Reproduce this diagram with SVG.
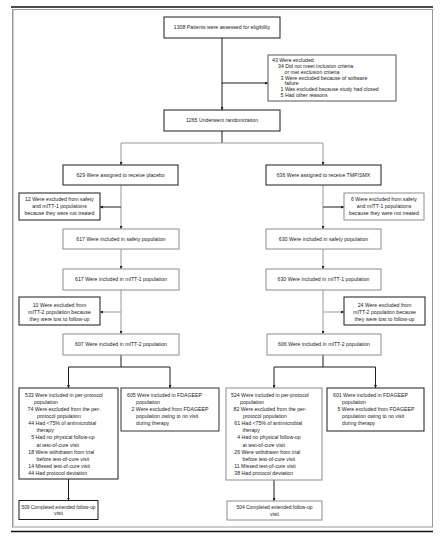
<svg xmlns="http://www.w3.org/2000/svg" width="440" height="539" viewBox="0 0 440 539">
<style>
text{font-family:"Liberation Sans",Arial,sans-serif;font-size:5.2px;fill:#222}
.c{text-anchor:middle}
.bk{fill:#fff;stroke:#1a1a1a;stroke-width:1}
.gy{fill:#fff;stroke:#8c8c8c;stroke-width:1}
.ln{fill:none;stroke:#1a1a1a;stroke-width:1}
.lg{fill:none;stroke:#999;stroke-width:1}
</style>
<defs>
<marker id="ah" markerUnits="userSpaceOnUse" markerWidth="3" markerHeight="3" refX="3" refY="1.5" orient="auto">
<path d="M0,0 L3,1.5 L0,3 z" fill="#1a1a1a"/>
</marker>
</defs>
<rect width="440" height="539" fill="#fff"/>
<line x1="11" y1="7" x2="433" y2="7" stroke="#111" stroke-width="1.3"/>
<rect x="12.5" y="9.5" width="420" height="517.5" fill="none" stroke="#999" stroke-width="1"/>
<line x1="13.5" y1="10" x2="13.5" y2="527" stroke="#ccc" stroke-width="1"/>
<line x1="11" y1="531.5" x2="433" y2="531.5" stroke="#111" stroke-width="1.3"/>

<g id="connectors">
<path class="ln" d="M222,38 V110" marker-end="url(#ah)"/>
<path class="ln" d="M222,83 H268" marker-end="url(#ah)"/>
<path class="ln" d="M222,131 V143"/>
<path class="lg" d="M121,143 H323"/>
<path class="lg" d="M121,143 V165" marker-end="url(#ah)"/>
<path class="lg" d="M323,143 V165" marker-end="url(#ah)"/>
<path class="lg" d="M121,185 V229" marker-end="url(#ah)"/>
<path class="ln" d="M121,207 H100" marker-end="url(#ah)"/>
<path class="lg" d="M323,185 V229" marker-end="url(#ah)"/>
<path class="ln" d="M323,207 H344" marker-end="url(#ah)"/>
<path class="lg" d="M121,249 V269" marker-end="url(#ah)"/>
<path class="lg" d="M323,249 V269" marker-end="url(#ah)"/>
<path class="lg" d="M121,290 V334" marker-end="url(#ah)"/>
<path class="lg" d="M121,312 H100" marker-end="url(#ah)"/>
<path class="lg" d="M323,290 V334" marker-end="url(#ah)"/>
<path class="lg" d="M323,312 H344" marker-end="url(#ah)"/>
<path class="ln" d="M121,355 V367 M68.5,367 H170 M323,355 V367 M274,367 H375.5"/>
<path class="ln" d="M68.5,367 V388" marker-end="url(#ah)"/>
<path class="ln" d="M170,367 V388" marker-end="url(#ah)"/>
<path class="ln" d="M274,367 V388" marker-end="url(#ah)"/>
<path class="ln" d="M375.5,367 V388" marker-end="url(#ah)"/>
<path class="ln" d="M68.5,479 V500.5" marker-end="url(#ah)"/>
<path class="ln" d="M274,480 V501" marker-end="url(#ah)"/>
</g>

<g id="assessed">
<rect class="bk" x="164" y="17" width="116" height="21"/>
<text class="c" x="222" y="29.3">1308 Patients were assessed for eligibility</text>
</g>
<g id="excluded">
<rect class="bk" x="268" y="55" width="128" height="46" style="stroke:#555"/>
<text x="272" y="62">43 Were excluded</text>
<text x="278" y="67.9">34 Did not meet inclusion criteria</text>
<text x="284.5" y="73.7">or met exclusion criteria</text>
<text x="280.6" y="79.6">3 Were excluded because of software</text>
<text x="284.5" y="85.4">failure</text>
<text x="280.6" y="91.3">1 Was excluded because study had closed</text>
<text x="280.6" y="97.1">5 Had other reasons</text>
</g>
<g id="randomized">
<rect class="bk" x="164" y="110" width="116" height="21"/>
<text class="c" x="222" y="122.3">1265 Underwent randomization</text>
</g>
<g id="placebo">
<rect class="bk" x="63" y="165" width="115" height="20"/>
<text class="c" x="120.5" y="176.8">629 Were assigned to receive placebo</text>
</g>
<g id="tmpsmx">
<rect class="bk" x="266" y="165" width="115" height="20"/>
<text class="c" x="323.5" y="176.8">636 Were assigned to receive TMP/SMX</text>
</g>
<g id="excl-safety-placebo">
<rect class="bk" x="19" y="193" width="81" height="27"/>
<text class="c" x="59.5" y="201">12 Were excluded from safety</text>
<text class="c" x="59.5" y="208">and mITT-1 populations</text>
<text class="c" x="59.5" y="215">because they were not treated</text>
</g>
<g id="excl-safety-tmp">
<rect class="gy" x="344" y="193" width="80" height="27"/>
<text class="c" x="384" y="201">6 Were excluded from safety</text>
<text class="c" x="384" y="208">and mITT-1 populations</text>
<text class="c" x="384" y="215">because they were not treated</text>
</g>
<g id="safety-placebo">
<rect class="gy" x="63" y="229" width="116" height="20"/>
<text class="c" x="121" y="240.8">617 Were included in safety population</text>
</g>
<g id="safety-tmp">
<rect class="gy" x="266" y="229" width="115" height="20"/>
<text class="c" x="323.5" y="240.8">630 Were included in safety population</text>
</g>
<g id="mitt1-placebo">
<rect class="gy" x="63" y="269" width="116" height="21"/>
<text class="c" x="121" y="281.3">617 Were included in mITT-1 population</text>
</g>
<g id="mitt1-tmp">
<rect class="gy" x="266" y="269" width="115" height="21"/>
<text class="c" x="323.5" y="281.3">630 Were included in mITT-1 population</text>
</g>
<g id="excl-mitt2-placebo">
<rect class="bk" x="19" y="297" width="81" height="28"/>
<text class="c" x="59.5" y="306.8">10 Were excluded from</text>
<text class="c" x="59.5" y="313.8">mITT-2 population because</text>
<text class="c" x="59.5" y="320.8">they were lost to follow-up</text>
</g>
<g id="excl-mitt2-tmp">
<rect class="bk" x="344" y="297" width="81" height="28"/>
<text class="c" x="384.5" y="306.8">24 Were excluded from</text>
<text class="c" x="384.5" y="313.8">mITT-2 population because</text>
<text class="c" x="384.5" y="320.8">they were lost to follow-up</text>
</g>
<g id="mitt2-placebo">
<rect class="gy" x="63" y="334" width="116" height="21"/>
<text class="c" x="121" y="346.3">607 Were included in mITT-2 population</text>
</g>
<g id="mitt2-tmp">
<rect class="gy" x="267" y="334" width="114" height="21"/>
<text class="c" x="324" y="346.3">606 Were included in mITT-2 population</text>
</g>
<g id="pp-placebo">
<rect class="bk" x="19" y="388" width="99" height="91"/>
<text x="25" y="396.8">533 Were included in per-protocol</text>
<text x="34" y="403.9">population</text>
<text x="27.5" y="411">74 Were excluded from the per-</text>
<text x="37" y="418.1">protocol population</text>
<text x="28.3" y="425.2">44 Had &lt;75% of antimicrobial</text>
<text x="36.5" y="432.3">therapy</text>
<text x="31.2" y="439.4">5 Had no physical follow-up</text>
<text x="36.5" y="446.5">at test-of-cure visit</text>
<text x="28.3" y="453.6">18 Were withdrawn from trial</text>
<text x="36.5" y="460.7">before test-of-cure visit</text>
<text x="28.3" y="467.8">14 Missed test-of-cure visit</text>
<text x="28.3" y="474.9">44 Had protocol deviation</text>
</g>
<g id="fda-placebo">
<rect class="bk" x="121" y="388" width="98" height="43" style="stroke:#333"/>
<text x="127" y="396.8">605 Were included in FDAGEEP</text>
<text x="136" y="403.9">population</text>
<text x="131.5" y="411">2 Were excluded from FDAGEEP</text>
<text x="136" y="418.1">population owing to no visit</text>
<text x="136" y="425.2">during therapy</text>
</g>
<g id="pp-tmp">
<rect class="gy" x="226" y="388" width="96" height="92"/>
<text x="231" y="396.8">524 Were included in per-protocol</text>
<text x="240" y="403.9">population</text>
<text x="233.5" y="411">82 Were excluded from the per-</text>
<text x="243" y="418.1">protocol population</text>
<text x="234.3" y="425.2">61 Had &lt;75% of antimicrobial</text>
<text x="242.5" y="432.3">therapy</text>
<text x="237.2" y="439.4">4 Had no physical follow-up</text>
<text x="242.5" y="446.5">at test-of-cure visit</text>
<text x="234.3" y="453.6">26 Were withdrawn from trial</text>
<text x="242.5" y="460.7">before test-of-cure visit</text>
<text x="234.3" y="467.8">11 Missed test-of-cure visit</text>
<text x="234.3" y="474.9">38 Had protocol deviation</text>
</g>
<g id="fda-tmp">
<rect class="bk" x="327" y="388" width="97" height="43"/>
<text x="333" y="396.8">601 Were included in FDAGEEP</text>
<text x="342" y="403.9">population</text>
<text x="337.5" y="411">5 Were excluded from FDAGEEP</text>
<text x="342" y="418.1">population owing to no visit</text>
<text x="342" y="425.2">during therapy</text>
</g>
<g id="followup-placebo">
<rect class="bk" x="19" y="500.5" width="79" height="19"/>
<text class="c" x="58.5" y="508.5" textLength="74" lengthAdjust="spacingAndGlyphs">509 Completed extended follow-up</text>
<text class="c" x="58.5" y="515">visit</text>
</g>
<g id="followup-tmp">
<rect class="gy" x="227" y="501" width="95" height="19"/>
<text class="c" x="274.5" y="509" textLength="76" lengthAdjust="spacingAndGlyphs">504 Completed extended follow-up</text>
<text class="c" x="274.5" y="515.5">visit</text>
</g>
</svg>
